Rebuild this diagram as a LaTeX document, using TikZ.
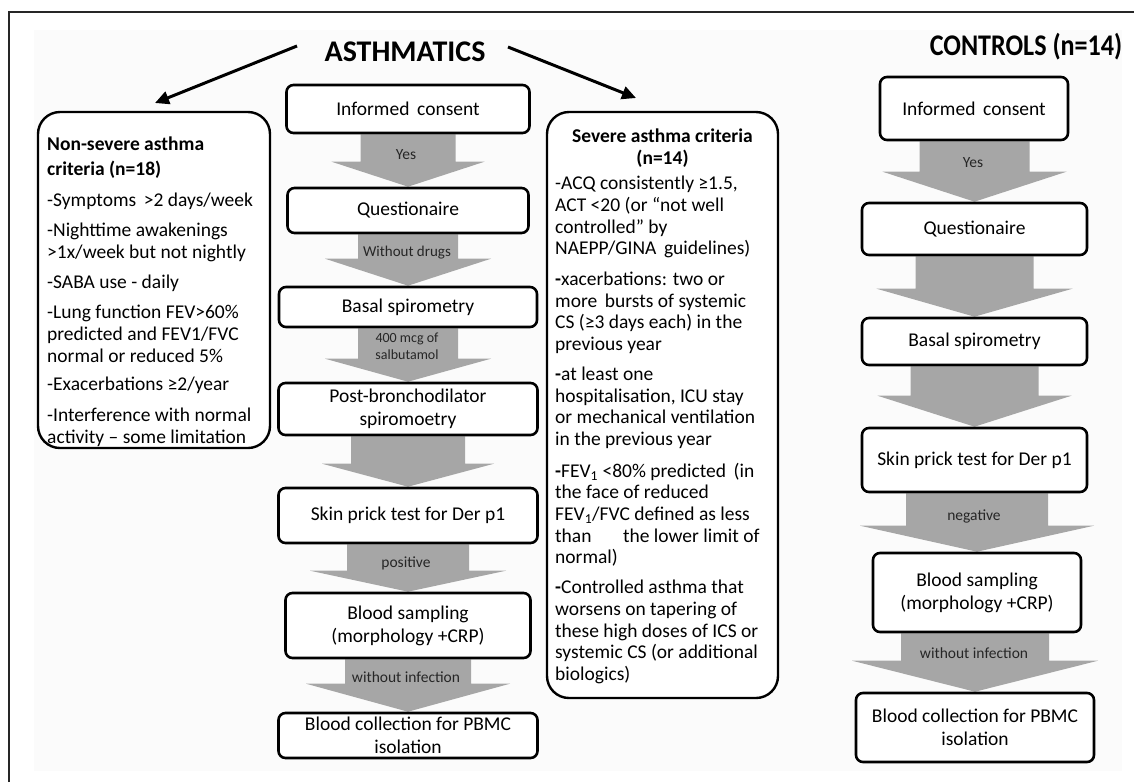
\documentclass[tikz,border=0pt]{standalone}
\usepackage{fontspec}
\setmainfont{Carlito}
\usetikzlibrary{arrows.meta,calc,backgrounds}
\definecolor{arrgray}{HTML}{A6A6A6}
\definecolor{bgfill}{HTML}{FBFBFB}
\definecolor{lbltext}{HTML}{262626}
\newcommand\blockarr[5]{%
  \fill[arrgray] let \p1=(#1.south), \p2=(#2.north) in
   (\x2-#3pt,\y1) -- (\x2+#3pt,\y1) -- (\x2+#3pt,\y2+#5pt) -- (\x2+#4pt,\y2+#5pt)
   -- (\x2,\y2) -- (\x2-#4pt,\y2+#5pt) -- (\x2-#3pt,\y2+#5pt) -- cycle;}
\tikzset{
  flow/.style={draw, line width=2.6pt, rounded corners=7pt, fill=white, align=center,
    inner sep=0pt, font=\fontsize{19.5}{23}\selectfont},
  critbox/.style={draw, line width=2.4pt, rounded corners=22pt, fill=white, inner sep=0pt},
  crittext/.style={align=left, inner sep=0pt, anchor=north west, font=\fontsize{19.5}{22}\selectfont},
  lbl/.style={inner sep=0pt, text=lbltext, font=\fontsize{15.5}{17}\selectfont},
  titletext/.style={inner sep=0pt, font=\fontsize{30}{32}\selectfont\bfseries},
  bigarrow/.style={line width=3pt, -{Triangle[length=14pt,width=13pt]}}
}
\begin{document}
\begin{tikzpicture}[x=1pt,y=-1pt]
\useasboundingbox (0,0) rectangle (1134,782);

% titles
\node[titletext] (asth) at (405,52) {ASTHMATICS};
\node[titletext] (ctrl) at (1026,47) {\scalebox{0.87}[1]{CONTROLS (n=14)}};
\coordinate (lastart) at (297,46);
\coordinate (latip) at (155,103);
\coordinate (rastart) at (508,47);
\coordinate (ratip) at (636,98);
\draw[bigarrow] (lastart) -- (latip);
\draw[bigarrow] (rastart) -- (ratip);

% non-severe box
\node[critbox, minimum width=232pt, minimum height=336pt] (ns) at (154,280) {};
\node[crittext] (nstext) at (47,137) {\textbf{Non-severe asthma}\\[3pt]
\textbf{criteria (n=18)}\\[9pt]
-Symptoms \,>2 days/week\\[8pt]
-Nighttime awakenings\\
>1x/week but not nightly\\[8pt]
-SABA use - daily\\[8pt]
-Lung function FEV>60\%\\
predicted and FEV1/FVC\\
normal or reduced 5\%\\[6pt]
-Exacerbations ≥2/year\\[9pt]
-Interference with normal\\
activity – some limitation};

% severe box
\node[critbox, minimum width=231pt, minimum height=586pt] (sv) at (662.5,405) {};
\node[inner sep=0pt, align=center, anchor=north, font=\fontsize{19.5}{22}\selectfont\bfseries] (svtitle) at (662.5,129)
  {Severe asthma criteria\\(n=14)};
\node[crittext, font=\fontsize{19.5}{21.7}\selectfont] (svtext) at (555,176) {-ACQ consistently ≥1.5,\\
ACT <20 (or “not well\\
controlled” by\\
NAEPP/GINA \,guidelines)\\[9pt]
\textbf{-}xacerbations: two or\\
more \,bursts of systemic\\
CS (≥3 days each) in the\\
previous year\\[8pt]
\textbf{-}at least one\\
hospitalisation, ICU stay\\
or mechanical ventilation\\
in the previous year\\[10pt]
\textbf{-}FEV\textsubscript{1} <80\% predicted \,(in\\
the face of reduced\\
FEV\textsubscript{1}/FVC defined as less\\
than \quad\, the lower limit of\\
normal)\\[8pt]
\textbf{-}Controlled asthma that\\
worsens on tapering of\\
these high doses of ICS or\\
systemic CS (or additional\\
biologics)};

% asthmatics flow
\node[flow, minimum width=243pt, minimum height=48pt] (m1) at (408,109) {Informed \,consent};
\node[flow, minimum width=241pt, minimum height=45pt] (m2) at (408,210.5) {Questionaire};
\node[flow, minimum width=258pt, minimum height=40pt] (m3) at (408,307) {Basal spirometry};
\node[flow, minimum width=259pt, minimum height=52pt] (m4) at (408,409) {Post-bronchodilator\\spiromoetry};
\node[flow, minimum width=259pt, minimum height=55pt] (m5) at (408,515.5) {Skin prick test for Der p1};
\node[flow, minimum width=245pt, minimum height=65pt] (m6) at (408,625.5) {Blood sampling\\(morphology +CRP)};
\node[flow, minimum width=259pt, minimum height=45pt] (m7) at (408,735.5) {Blood collection for PBMC\\isolation};

% controls flow
\node[flow, minimum width=188pt, minimum height=63pt] (c1) at (974,108.5) {Informed \,consent};
\node[flow, minimum width=225pt, minimum height=52pt] (c2) at (974.5,229) {Questionaire};
\node[flow, minimum width=225pt, minimum height=47pt] (c3) at (974.5,341.5) {Basal spirometry};
\node[flow, minimum width=225pt, minimum height=64pt] (c4) at (974.5,460) {Skin prick test for Der p1};
\node[flow, minimum width=208pt, minimum height=79pt] (c5) at (977,592.5) {Blood sampling\\(morphology +CRP)};
\node[flow, minimum width=238pt, minimum height=69pt] (c6) at (975,727.5) {Blood collection for PBMC\\isolation};

\begin{scope}[on background layer]
\fill[white] (0,0) rectangle (1134,782);
\fill[bgfill] (34,30) rectangle (1122,771);
\draw[line width=1.5pt, black!85] (9,782) -- (9,12) -- (1134,12);
\blockarr{m1}{m2}{47.5}{76.5}{25}
\blockarr{m2}{m3}{50}{83}{27}
\blockarr{m3}{m4}{50}{83}{23}
\blockarr{m4}{m5}{57}{86}{23}
\blockarr{m5}{m6}{61}{98}{21}
\blockarr{m6}{m7}{63}{102}{28}
\blockarr{c1}{c2}{55}{92}{30}
\blockarr{c2}{c3}{59}{98}{28}
\blockarr{c3}{c4}{64}{97}{31}
\blockarr{c4}{c5}{71}{117}{26}
\blockarr{c5}{c6}{74}{123}{31}
\end{scope}

% arrow labels
\node[lbl] (l1) at (406,155) {Yes};
\node[lbl, font=\fontsize{15}{17}\selectfont] (l2) at (407,253) {Without drugs};
\node[lbl, align=center, font=\fontsize{14}{17}\selectfont] (l3) at (407,346) {400 mcg of\\salbutamol};
\node[lbl] (l5) at (406,563) {positive};
\node[lbl] (l6) at (406,677) {without infection};
\node[lbl] (k1) at (973,163) {Yes};
\node[lbl] (k4) at (974,516) {negative};
\node[lbl] (k5) at (974,653) {without infection};
\end{tikzpicture}
\end{document}
